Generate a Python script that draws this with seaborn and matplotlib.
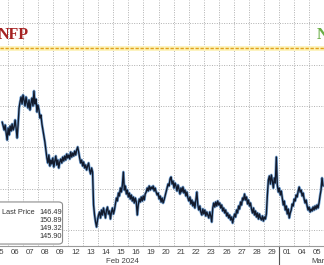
import numpy as np
import pandas as pd
import matplotlib
matplotlib.use("Agg")
import matplotlib.pyplot as plt
import matplotlib.transforms as mtransforms
from matplotlib.patches import FancyBboxPatch
import seaborn as sns

# ---------------- data ----------------
day_labels = ["05", "06", "07", "08", "09", "12", "13", "14", "15", "16", "19",
              "20", "21", "22", "23", "26", "27", "28", "29", "01", "04", "05"]
month_labels = ["Feb 2024", "Mar"]

week1 = [149.78, 149.74, 149.70, 149.75, 149.67, 149.60, 149.72, 149.65, 149.74, 149.69,
         149.76, 149.70, 149.73, 149.80, 149.72, 149.62, 149.75, 149.92,
         149.98, 150.03, 149.96, 150.05, 150.00, 149.94, 150.03, 149.97, 149.92, 150.00,
         149.90, 149.97, 150.02, 149.94, 150.09, 149.96, 150.01, 149.88, 149.95, 149.90,
         149.82, 149.85, 149.76, 149.70, 149.64, 149.58, 149.50, 149.42,
         149.37, 149.45, 149.34, 149.40, 149.36, 149.42, 149.33, 149.39, 149.44, 149.35,
         149.40, 149.32, 149.38, 149.41, 149.37, 149.43, 149.39, 149.44, 149.40, 149.46,
         149.42]
week2 = [149.45, 149.41, 149.48, 149.43, 149.47, 149.44, 149.49, 149.45, 149.50, 149.53, 149.48,
         149.42, 149.37, 149.40, 149.34, 149.38, 149.32, 149.35, 149.30, 149.34, 149.37,
         149.30, 149.26, 149.32, 149.28,
         148.95, 148.85, 148.78, 148.73,
         148.80, 148.85, 148.88, 148.82, 148.90, 148.85, 148.92, 148.87, 148.82, 148.90,
         148.93, 148.86, 148.89, 148.81, 148.88, 148.92, 148.86, 148.90,
         148.96, 149.02, 148.99, 149.07, 149.04, 149.12, 149.08, 149.15, 149.28, 149.10,
         149.14, 149.06, 149.10, 149.03, 149.07, 149.01, 149.05, 148.99, 149.03, 148.97,
         149.02, 148.98, 148.85, 148.95,
         149.01, 148.98, 149.03, 148.99, 149.04]
week3 = [149.00, 149.06, 149.08,
         149.12, 149.09, 149.14, 149.10, 149.13, 149.11, 149.14, 149.09, 149.12, 149.08,
         149.05, 149.07, 149.01, 149.04, 148.98, 149.02, 148.97, 149.00, 149.04, 149.08,
         149.12, 149.16, 149.14, 149.21, 149.23,
         149.16, 149.19, 149.12, 149.17, 149.14, 149.09, 149.15, 149.11, 149.06, 149.12,
         149.08, 149.13, 149.07, 149.10, 149.04, 149.08, 149.02,
         148.99, 149.03, 148.96, 149.00, 148.94, 148.98, 148.92, 149.00, 149.08, 148.95,
         148.90, 148.94, 148.88,
         148.85, 148.91, 148.86, 148.90, 148.84, 148.88, 148.85, 148.82, 148.88, 148.84,
         148.78,
         148.92, 148.97, 148.93, 148.98, 148.94, 148.99, 148.95]
week4 = [148.97,
         148.92, 148.95, 148.89, 148.92, 148.87, 148.90, 148.84, 148.87, 148.82, 148.85,
         148.80, 148.83, 148.77,
         148.82, 148.86, 148.83, 148.90, 148.87, 148.94, 148.91, 148.98, 148.95, 149.02,
         149.00, 149.06,
         149.00, 149.03, 148.96, 149.00, 148.94, 148.97, 148.91,
         148.87, 148.92, 148.85, 148.89, 148.83, 148.87, 148.81, 148.86, 148.82, 148.80,
         148.84, 148.79, 148.83, 148.81, 148.86,
         149.05, 149.20, 149.24,
         149.16, 149.25, 149.19, 149.12, 149.22, 149.17, 149.43, 149.15,
         149.08, 149.12, 149.05, 149.09, 149.02,
         148.95, 148.99, 148.90, 148.94, 148.86, 148.91, 148.82, 148.87, 148.90,
         148.96, 148.94, 149.01]
week5 = [148.99, 149.05, 149.03, 149.09, 149.13, 149.08, 149.10,
         149.04, 149.07, 149.01, 148.97, 149.00, 148.94,
         148.90, 148.93, 148.88, 148.91, 148.89, 148.93, 148.90, 148.94, 148.91, 148.95,
         148.92, 148.97, 149.04, 149.10, 149.22, 149.14]

legend_label = "Last Price"
legend_values = [146.49, 150.89, 149.32, 145.90]
event_label = "NFP"
event_level = 150.52

samples_per_day = 15.2
first_sample_day = 0.645

# ---------------- build ----------------
prices = week1 + week2 + week3 + week4 + week5
times = first_sample_day + np.arange(len(prices)) / samples_per_day
df = pd.DataFrame({"time": times, "price": prices})

sns.set_theme(style="white")
plt.rcParams['font.family'] = ['Liberation Sans', 'DejaVu Sans']

W, H = 324, 265
fig = plt.figure(figsize=(W / 100, H / 100), dpi=100)
fig.patch.set_facecolor("white")
ax = fig.add_axes([0, 19 / H, 1, 246 / H])
ax.set_facecolor("white")

x0 = first_sample_day
x1 = first_sample_day + W / samples_per_day
ax.set_xlim(x0, x1)
ax.set_ylim(148.54, 151.00)

grid_kw = dict(color="#b0b0b0", lw=0.7, ls=(0, (1, 1.5)), zorder=0)
for t in range(1, 22):
    ax.axvline(t, **grid_kw)
for k in range(6):
    ax.axhline(148.695 + 0.415 * k, **grid_kw)

# event line (dashed with glow)
ax.axhline(event_level, color="#fcf2b8", lw=3.4, zorder=1)
ax.axhline(event_level, color="#e2a11c", lw=1.0, ls=(0, (2.4, 1.2)), zorder=2)

# price line
sns.lineplot(data=df, x="time", y="price", ax=ax, color="#7ba7d6", lw=2.0,
             estimator=None, sort=False, zorder=3)
sns.lineplot(data=df, x="time", y="price", ax=ax, color="#121a2c", lw=1.0,
             estimator=None, sort=False, zorder=4)

# axes styling
for s in ["top", "left", "right"]:
    ax.spines[s].set_visible(False)
ax.spines["bottom"].set_color("#9a9a9a")
ax.spines["bottom"].set_linewidth(0.8)
ax.set_yticks([])
ax.set_xticks([i + 0.5 for i in range(len(day_labels))])
ax.set_xticklabels(day_labels, fontsize=5.6, color="#404040")
ax.tick_params(axis="x", length=0, pad=2.5)
ax.set_xlabel("")
ax.set_ylabel("")

trans = mtransforms.blended_transform_factory(ax.transData, ax.transAxes)
# month separator
ax.plot([19, 19], [0, -0.08], transform=trans, color="#555555", lw=0.8, clip_on=False)
ax.text(8.64, -0.061, month_labels[0], transform=trans, fontsize=5.6, color="#404040",
        ha="center", va="center")
ax.text(21.1, -0.061, month_labels[1], transform=trans, fontsize=5.6, color="#404040",
        ha="left", va="center")

# event labels
ax.text(2.42, 150.65, event_label, ha="right", va="center", fontsize=11.5,
        fontweight="bold", family=["Liberation Serif", "DejaVu Serif"], color="#a52222",
        zorder=5)
ax.text(21.5, 150.65, event_label, ha="left", va="center", fontsize=11.5,
        fontweight="bold", family=["Liberation Serif", "DejaVu Serif"], color="#6aad45",
        zorder=5)

# legend box
box = FancyBboxPatch((-0.03, 0.008), 0.223, 0.171, transform=ax.transAxes,
                     boxstyle="round,pad=0,rounding_size=0.012",
                     facecolor="white", edgecolor="#8c8c8c", lw=0.8, zorder=6, clip_on=False)
ax.add_patch(box)
rows_y = [0.138, 0.104, 0.071, 0.037]
ax.text(0.006, rows_y[0], legend_label, transform=ax.transAxes, fontsize=5.3,
        color="#333333", ha="left", va="center", zorder=7)
for yv, val in zip(rows_y, legend_values):
    ax.text(0.19, yv, f"{val:.2f}", transform=ax.transAxes, fontsize=5.3,
            color="#333333", ha="right", va="center", zorder=7)

fig.savefig("out.png", dpi=100, facecolor="white")
